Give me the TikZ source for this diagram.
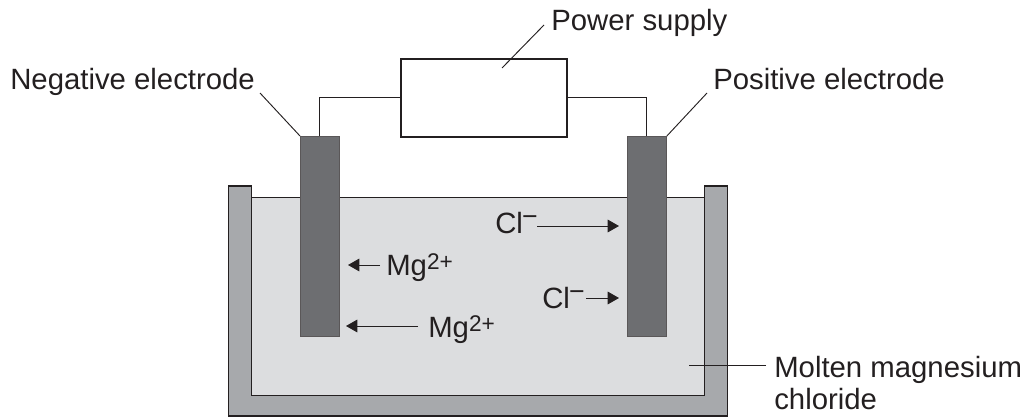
\documentclass[tikz,border=0pt]{standalone}
\usepackage{fontspec}
\setmainfont{Liberation Sans}
\usetikzlibrary{arrows.meta,calc}
\definecolor{ink}{HTML}{231F20}
\definecolor{tankgray}{HTML}{A7A9AC}
\definecolor{liquidgray}{HTML}{DCDDDF}
\definecolor{electrodegray}{HTML}{6D6E71}
\newcommand{\supr}[1]{\raisebox{4.5pt}{\fontsize{17}{20}\selectfont #1}}
\newcommand{\minusr}{\kern-0.6pt\raisebox{6pt}{\fontsize{20}{20}\selectfont −}}
\tikzset{
  x=0.75pt,y=-0.75pt,
  label text/.style={inner sep=0pt,anchor=base west,text=ink,font=\fontsize{22}{24}\selectfont,align=left},
  wire/.style={draw=ink,line width=0.8pt},
  leader/.style={draw=ink,line width=0.7pt},
  arrowline/.style={draw=ink,line width=0.7pt,-{Triangle[length=8.5pt,width=9.5pt]}},
  electrode/.style={draw=ink!75,fill=electrodegray,line width=0.7pt,minimum width=29.2pt,minimum height=150pt,inner sep=0pt,anchor=north west},
  supply box/.style={draw=ink,fill=white,line width=1.2pt,minimum width=124.5pt,minimum height=58.5pt,inner sep=0pt,anchor=north west},
}
\begin{document}
\begin{tikzpicture}
\useasboundingbox (0,0) rectangle (1027,417);
% tank wall
\filldraw[draw=ink,fill=tankgray,line width=0.8pt] (228.5,416) -- (228.5,186) -- (251.5,186) -- (251.5,395.5) -- (704.5,395.5) -- (704.5,186) -- (727.5,186) -- (727.5,416) -- cycle;
% molten liquid
\filldraw[draw=ink,fill=liquidgray,line width=0.9pt] (251.5,197.5) rectangle (704.5,395.5);
% electrodes
\node[electrode] (neg) at (300,136) {};
\node[electrode] (pos) at (627,136) {};
% power supply
\node[supply box] (supply) at (400,58) {};
% wires
\draw[wire] (supply.west) -| (neg.north);
\draw[wire] (supply.east) -| (pos.north);
% labels
\node[label text] (powerlabel) at (551,31) {Power supply};
\node[label text] (neglabel) at (10,90) {Negative electrode};
\node[label text] (poslabel) at (713,90) {Positive electrode};
\node[label text,anchor=north west] (moltenlabel) at (774,356) {Molten magnesium\\chloride};
\node[label text] (mgone) at (386,275) {Mg\supr{2+}};
\node[label text] (mgtwo) at (428,337) {Mg\supr{2+}};
\node[label text] (clone) at (495,233.5) {Cl\minusr};
\node[label text] (cltwo) at (542,308) {Cl\minusr};
% leaders
\coordinate (powerfrom) at (544,25);
\coordinate (powerto) at (502,68);
\coordinate (negfrom) at (260,93);
\coordinate (posfrom) at (707,93);
\coordinate (moltenfrom) at (766,365);
\coordinate (moltento) at (689,365);
\draw[leader] (powerfrom) -- (powerto);
\draw[leader] (negfrom) -- (neg.north west);
\draw[leader] (posfrom) -- (pos.north east);
\draw[leader] (moltenfrom) -- (moltento);
% arrows
\coordinate (mgonefrom) at (380,265);
\coordinate (mgoneto) at (348,265);
\coordinate (mgtwofrom) at (418,326);
\coordinate (mgtwoto) at (346,326);
\coordinate (clonefrom) at (537,226);
\coordinate (cloneto) at (619,226);
\coordinate (cltwofrom) at (586,298);
\coordinate (cltwoto) at (619,298);
\draw[arrowline] (mgonefrom) -- (mgoneto);
\draw[arrowline] (mgtwofrom) -- (mgtwoto);
\draw[arrowline] (clonefrom) -- (cloneto);
\draw[arrowline] (cltwofrom) -- (cltwoto);
\end{tikzpicture}
\end{document}
